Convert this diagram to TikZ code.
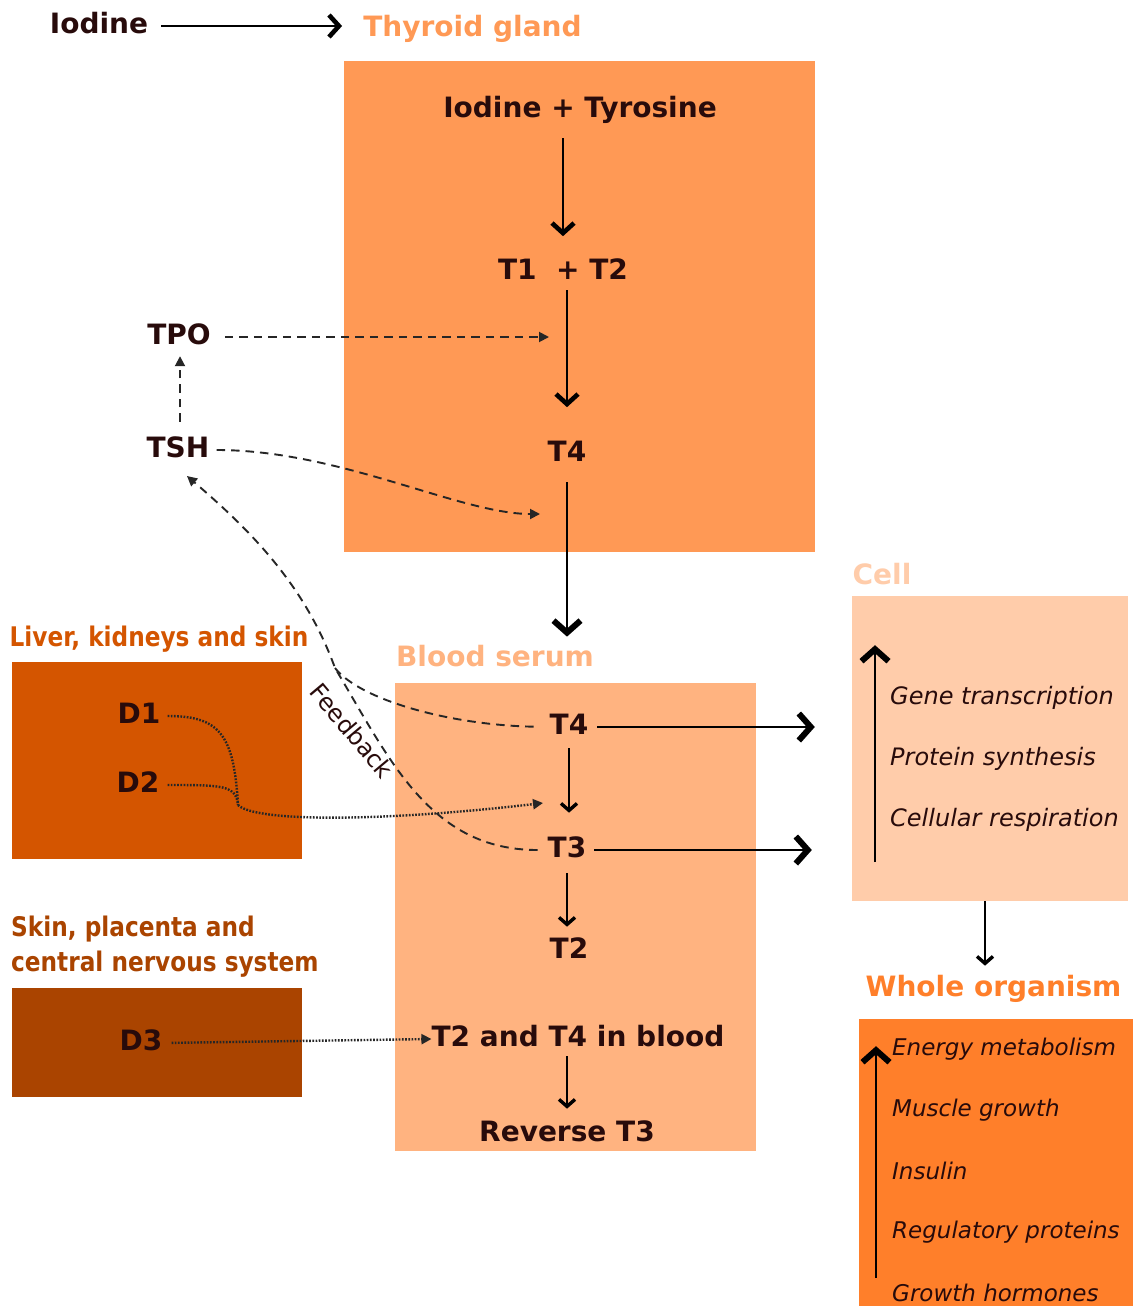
\documentclass[tikz,border=0pt]{standalone}
\usepackage{fontspec}
\setmainfont{DejaVu Sans}
\newfontfamily\condfont{DejaVu Sans}[FakeStretch=0.86]
\usetikzlibrary{arrows.meta}
\definecolor{tx}{HTML}{280B0B}
\definecolor{thyc}{HTML}{FF9955}
\definecolor{bldc}{HTML}{FFB380}
\definecolor{celc}{HTML}{FFCCAA}
\definecolor{whlc}{HTML}{FF7F2A}
\definecolor{livc}{HTML}{D45500}
\definecolor{skic}{HTML}{AA4400}
\makeatletter
\pgfdeclarearrow{
  name = Chev,
  parameters = {\the\pgfarrowlength,\the\pgfarrowwidth,\the\pgfarrowlinewidth},
  setup code = {
    \pgfarrowssettipend{.7\pgfarrowlinewidth}
    \pgfarrowssetlineend{-.5\pgfarrowlinewidth}
    \pgfarrowssetbackend{-\pgfarrowlength}
    \pgfarrowsupperhullpoint{-\pgfarrowlength}{.5\pgfarrowwidth}
    \pgfarrowsupperhullpoint{.7\pgfarrowlinewidth}{0pt}
    \pgfarrowssavethe\pgfarrowlength
    \pgfarrowssavethe\pgfarrowwidth
    \pgfarrowssavethe\pgfarrowlinewidth
  },
  drawing code = {
    \pgfsetdash{}{0pt}
    \pgfsetmiterjoin
    \pgfsetbuttcap
    \pgfsetlinewidth{\pgfarrowlinewidth}
    \pgfpathmoveto{\pgfqpoint{-\pgfarrowlength}{.5\pgfarrowwidth}}
    \pgfpathlineto{\pgfpointorigin}
    \pgfpathlineto{\pgfqpoint{-\pgfarrowlength}{-.5\pgfarrowwidth}}
    \pgfusepathqstroke
  },
  defaults = {length=10pt, width=20pt, line width=3pt}
}
\makeatother
\tikzset{
  lbl/.style={font=\fontsize{28}{32}\selectfont\bfseries, text=tx, inner sep=0pt, text height=21pt, text depth=6pt},
  ttl/.style={lbl},
  condlbl/.style={font=\fontsize{27}{35}\selectfont\condfont\bfseries, inner sep=0pt},
  itm/.style={font=\fontsize{24}{28}\selectfont\itshape, text=tx, inner sep=0pt, anchor=west},
  itmw/.style={font=\fontsize{23}{28}\selectfont\itshape, text=tx, inner sep=0pt, anchor=west},
  box/.style={inner sep=0pt, draw=none},
  arrS/.style={-{Chev[length=7pt,width=16pt,line width=3.4pt]}, line width=1.5pt},
  arrM/.style={-{Chev[length=10pt,width=22pt,line width=4.6pt]}, line width=1.6pt},
  arrL/.style={-{Chev[length=12pt,width=27pt,line width=6pt]}, line width=2.2pt},
  dashln/.style={draw=black!85, line width=1.9pt, dash pattern=on 8.5pt off 6pt},
  dottln/.style={draw=black!85, line width=2.4pt, dash pattern=on 1.7pt off 1.5pt},
  tri/.style={-{Triangle[length=10pt,width=10pt]}},
}
\begin{document}
\begin{tikzpicture}[x=1pt,y=-1pt]
\useasboundingbox (0,0) rectangle (1137,1306);

% boxes
\node[box, fill=thyc, minimum width=471pt, minimum height=491pt] (thybox) at (579.5,306.5) {};
\node[box, fill=livc, minimum width=290pt, minimum height=197pt] (liverbox) at (157,760.5) {};
\node[box, fill=skic, minimum width=290pt, minimum height=109pt] (skinbox) at (157,1042.5) {};
\node[box, fill=bldc, minimum width=361pt, minimum height=468pt] (bloodbox) at (575.5,917) {};
\node[box, fill=celc, minimum width=276pt, minimum height=305pt] (cellbox) at (990,748.5) {};
\node[box, fill=whlc, minimum width=274pt, minimum height=290pt] (wholebox) at (996,1164) {};

% titles
\node[ttl] (iodine) at (99,26) {Iodine};
\node[ttl, text=thyc] (thylbl) at (472.5,29) {Thyroid gland};
\node[condlbl, text=livc] (liverlbl) at (159,639) {Liver, kidneys and skin};
\node[condlbl, text=skic, align=left, anchor=west] (skinlbl) at (11,946.5) {Skin, placenta and\\central nervous system};
\node[ttl, text=bldc] (bloodlbl) at (495,659) {Blood serum};
\node[ttl, text=celc] (celllbl) at (882,577) {Cell};
\node[ttl, text=whlc] (wholelbl) at (993.5,989) {Whole organism};

% thyroid content
\node[lbl] (iodtyr) at (580,110) {Iodine + Tyrosine};
\node[lbl] (t12) at (563,272) {T1~~+ T2};
\node[lbl] (t4) at (567,454) {T4};
\node[lbl] (tpo) at (179,337) {TPO};
\node[lbl] (tsh) at (178,450) {TSH};

% liver / skin content
\node[lbl] (d1) at (139,716) {D1};
\node[lbl] (d2) at (138,785) {D2};
\node[lbl] (d3) at (141,1043) {D3};

% blood content
\node[lbl] (t4b) at (569,727) {T4};
\node[lbl] (t3b) at (567,850) {T3};
\node[lbl] (t2b) at (569,951) {T2};
\node[lbl] (t2t4) at (578,1039) {T2 and T4 in blood};
\node[lbl] (rt3) at (567,1134) {Reverse T3};

% cell content
\node[itm] (gene) at (890,698) {Gene transcription};
\node[itm] (prot) at (890,759) {Protein synthesis};
\node[itm] (resp) at (890,820) {Cellular respiration};

% whole organism content
\node[itmw] (energy) at (892,1049) {Energy metabolism};
\node[itmw] (muscle) at (892,1110) {Muscle growth};
\node[itmw] (insulin) at (892,1171) {Insulin};
\node[itmw] (regul) at (892,1232) {Regulatory proteins};
\node[itmw] (growth) at (892,1293) {Growth hormones};

% feedback label
\node[font=\fontsize{24}{28}\selectfont, text=tx, rotate=-50, inner sep=0pt] (fblbl) at (352,731) {Feedback};

% free coordinates
\coordinate (tpoend) at (549,337);
\coordinate (tshend) at (540,514);
\coordinate (c4) at (815,727);
\coordinate (c3) at (812,850);
\coordinate (fbm) at (335,668);
\coordinate (fbend) at (187,476);
\coordinate (jn) at (238,805);
\coordinate (convend) at (543,803);
\coordinate (cellup0) at (875,862);
\coordinate (cellup1) at (875,645);
\coordinate (whup0) at (876,1278);
\coordinate (whup1) at (876,1046);

% solid arrows
\draw[arrM, line width=1.6pt, shorten <=13pt, shorten >=21pt] (iodine.east) -- (iodine.east -| thylbl.west);
\draw[arrM, shorten <=14.5pt, shorten >=22pt] (iodtyr.south -| t12.north) -- (t12.north);
\draw[arrM, shorten <=4.5pt, shorten >=33pt] (t12.south -| t4.north) -- (t4.north);
\draw[arrL, shorten <=14.5pt, shorten >=76.5pt] (t4.south) -- (t4.south |- t4b.north);
\draw[arrS, shorten <=7.5pt, shorten >=23.5pt] (t4b.south) -- (t4b.south |- t3b.north);
\draw[arrS, shorten <=9.5pt, shorten >=10.5pt] (t3b.south) -- (t3b.south |- t2b.north);
\draw[arrS, shorten <=3.5pt, shorten >=11.5pt] (t2t4.south -| rt3.north) -- (rt3.north);
\draw[arrL, shorten <=9pt] (t4b.east) -- (c4);
\draw[arrL, shorten <=8pt] (t3b.east) -- (c3);
\draw[arrS, shorten >=9.5pt] (cellbox.south -| 985,0) -- (wholelbl.north -| 985,0);
\draw[arrL, line width=1.8pt] (cellup0) -- (cellup1);
\draw[arrL, line width=1.8pt] (whup0) -- (whup1);

% dashed
\draw[dashln, tri, shorten <=14pt] (tpo.east) -- (tpoend);
\draw[dashln, tri, shorten <=14.5pt, shorten >=5.5pt] (tsh.north -| 180,0) -- (tpo.south -| 180,0);
\draw[dashln, tri, shorten <=7pt] (tsh.east) .. controls (340,450) and (460,514) .. (tshend);
\draw[dashln, tri, shorten <=10pt] (t3b.west) .. controls (430,850) and (390,760) .. (fbm)
   .. controls (305,585) and (250,530) .. (fbend);
\draw[dashln, shorten <=16pt] (t4b.west) .. controls (450,725) and (360,700) .. (fbm);

% dotted
\draw[dottln, shorten <=7pt] (d1.east) .. controls (220,716) and (234,735) .. (jn);
\draw[dottln, shorten <=8pt] (d2.east) .. controls (222,785) and (236,785) .. (jn);
\draw[dottln, tri] (jn) .. controls (255,822) and (380,822) .. (convend);
\draw[dottln, tri, shorten <=9pt] (d3.east) -- (t2t4.west);
\end{tikzpicture}
\end{document}
